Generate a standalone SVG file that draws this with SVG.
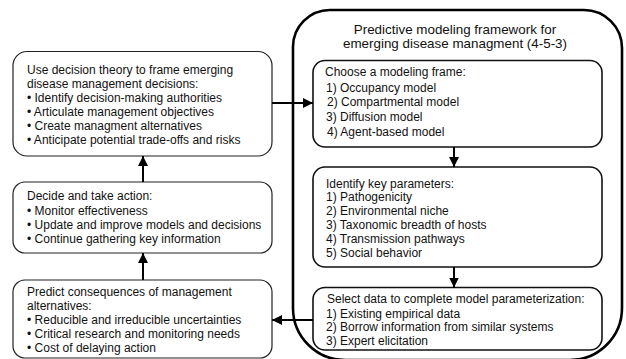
<svg xmlns="http://www.w3.org/2000/svg" width="626" height="359" viewBox="0 0 626 359">
<defs>
<marker id="ah" viewBox="0 0 10 10" refX="10" refY="5" markerWidth="5" markerHeight="5" orient="auto" markerUnits="strokeWidth">
<path d="M0,0 L10,5 L0,10 Z" fill="#000"/>
</marker>
<style>
.box{fill:#fff;stroke:#222;stroke-width:1.2}
.ibox{fill:#fff;stroke:#111;stroke-width:1.6}
.frame{fill:#fff;stroke:#000;stroke-width:2.6}
.t{font-family:"Liberation Sans",Arial,sans-serif;font-size:12px;fill:#111}
.title{font-family:"Liberation Sans",Arial,sans-serif;font-size:13.4px;fill:#111;text-anchor:middle}
.c{stroke:#000;stroke-width:2;fill:none;marker-end:url(#ah)}
</style>
</defs>
<rect width="626" height="359" fill="#fff"/>
<g id="frame">
<path class="frame" d="M330,10 H584 A38,38 0 0 1 622,48 V308 A52,52 0 0 1 570,360 H345 A52,52 0 0 1 293,308 V48 A37,37 0 0 1 330,10 Z"/>
<text class="title" x="455" y="33.5">Predictive modeling framework for</text>
<text class="title" x="455" y="48">emerging disease managment (4-5-3)</text>
</g>
<g id="frame-decisions">
<rect class="box" x="13" y="51.5" width="259" height="104.5" rx="14"/>
<text class="t" x="27" y="74">Use decision theory to frame emerging</text>
<text class="t" x="27" y="87.5">disease management decisions:</text>
<text class="t" x="27" y="101.5">• Identify decision-making authorities</text>
<text class="t" x="27" y="115.5">• Articulate management objectives</text>
<text class="t" x="27" y="129.5">• Create managment alternatives</text>
<text class="t" x="27" y="143.5">• Anticipate potential trade-offs and risks</text>
</g>
<g id="decide">
<rect class="box" x="13" y="182" width="259" height="71" rx="12"/>
<text class="t" x="27" y="200">Decide and take action:</text>
<text class="t" x="27" y="214.5">• Monitor effectiveness</text>
<text class="t" x="27" y="228.5">• Update and improve models and decisions</text>
<text class="t" x="27" y="242.5">• Continue gathering key information</text>
</g>
<g id="predict">
<rect class="box" x="13" y="280" width="259" height="78" rx="12"/>
<text class="t" x="27" y="296">Predict consequences of management</text>
<text class="t" x="27" y="309.5">alternatives:</text>
<text class="t" x="27" y="324">• Reducible and irreducible uncertainties</text>
<text class="t" x="27" y="338">• Critical research and monitoring needs</text>
<text class="t" x="27" y="352">• Cost of delaying action</text>
</g>
<g id="modeling-frame">
<rect class="ibox" x="313" y="60.5" width="289" height="86.5" rx="12"/>
<text class="t" x="325" y="76">Choose a modeling frame:</text>
<text class="t" x="326" y="91.5">1) Occupancy model</text>
<text class="t" x="327" y="106">2) Compartmental model</text>
<text class="t" x="326" y="121">3) Diffusion model</text>
<text class="t" x="327" y="136">4) Agent-based model</text>
</g>
<g id="key-parameters">
<rect class="ibox" x="313" y="167" width="289" height="100" rx="12"/>
<text class="t" x="326" y="187.5">Identify key parameters:</text>
<text class="t" x="326" y="201">1) Pathogenicity</text>
<text class="t" x="326" y="215">2) Environmental niche</text>
<text class="t" x="326" y="229">3) Taxonomic breadth of hosts</text>
<text class="t" x="326" y="243">4) Transmission pathways</text>
<text class="t" x="326" y="257">5) Social behavior</text>
</g>
<g id="select-data">
<rect class="ibox" x="313" y="287.5" width="289" height="62.5" rx="12"/>
<text class="t" x="327" y="302.5">Select data to complete model parameterization:</text>
<text class="t" x="326" y="317.5">1) Existing empirical data</text>
<text class="t" x="326" y="331">2) Borrow information from similar systems</text>
<text class="t" x="326" y="345">3) Expert elicitation</text>
</g>
<g id="connectors">
<line class="c" x1="272" y1="103" x2="313" y2="103"/>
<line class="c" x1="454" y1="147" x2="454" y2="167"/>
<line class="c" x1="454" y1="267" x2="454" y2="287.5"/>
<line class="c" x1="313" y1="320" x2="272" y2="320"/>
<line class="c" x1="143" y1="280" x2="143" y2="253"/>
<line class="c" x1="143" y1="182" x2="143" y2="156"/>
</g>
</svg>
